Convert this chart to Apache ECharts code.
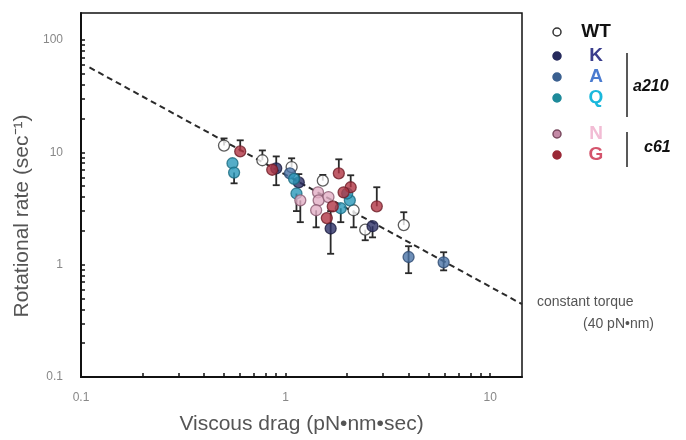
<!DOCTYPE html>
<html><head><meta charset="utf-8">
<script src="https://cdn.jsdelivr.net/npm/echarts@6/dist/echarts.min.js"></script>
<style>html,body{margin:0;padding:0;background:#fff}#c{width:686px;height:440px}</style>
</head><body><div id="c"></div>
<script>
// ---- data ----
const xTickLabels = [0.1, 1, 10];
const yTickLabels = [0.1, 1, 10, 100];

const wtX  = [0.50, 0.77, 1.07, 1.52, 2.15, 2.45, 3.78];
const wtY  = [11.5, 8.5, 7.4, 5.6, 3.05, 2.05, 2.25];
const wtLo = [null, null, null, null, 2.15, 1.65, null];
const wtHi = [13.3, 10.4, 8.85, 6.3, null, null, 2.93];

const kX  = [0.90, 1.16, 1.66, 2.66];
const kY  = [7.2, 5.4, 2.1, 2.2];
const kLo = [5.1, null, 1.25, 1.75];
const kHi = [9.2, 6.4, 3.0, null];

const aX  = [1.05, 3.99, 5.92];
const aY  = [6.5, 1.17, 1.05];
const aLo = [null, 0.84, 0.89];
const aHi = [null, 1.46, 1.29];

const qX  = [0.55, 0.56, 1.10, 1.13, 1.86, 2.06, 2.0];
const qY  = [8.0, 6.6, 5.8, 4.3, 3.18, 3.74, 4.3];
const qLo = [null, 5.3, null, 3.0, 2.39, null, null];
const qHi = [null, null, null, null, null, null, null];

const nX  = [1.18, 1.44, 1.45, 1.41, 1.62];
const nY  = [3.74, 4.41, 3.74, 3.05, 4.0];
const nLo = [2.39, null, null, 2.15, null];
const nHi = [null, null, null, null, null];

const gX  = [0.60, 0.86, 1.82, 2.08, 1.92, 1.70, 1.59, 2.79];
const gY  = [10.2, 7.0, 6.5, 4.89, 4.41, 3.3, 2.6, 3.31];
const gLo = [null, null, null, null, null, null, null, null];
const gHi = [12.8, null, 8.67, 6.25, null, null, null, 4.89];

// constant torque (40 pN·nm) line end points
const lineX = [0.11, 14.3];
const lineY = [57, 0.445];

// ---- helpers ----
function minorTicks(decades){
  const out=[];
  decades.forEach(d=>{for(let k=1;k<=9;k++){out.push(+(d*k).toPrecision(3));}});
  return out;
}
function pts(xs,ys){return xs.map((x,i)=>[x,ys[i]]);}
function errs(xs,ys,lo,hi){return xs.map((x,i)=>[x,ys[i],lo[i]==null?ys[i]:lo[i],hi[i]==null?ys[i]:hi[i]]);}

const groups = [
  {name:'WT', x:wtX,y:wtY,lo:wtLo,hi:wtHi, fill:'#ffffff', border:'#333333'},
  {name:'K',  x:kX,y:kY,lo:kLo,hi:kHi, fill:'#2c2f66', border:'#1c1d40'},
  {name:'A',  x:aX,y:aY,lo:aLo,hi:aHi, fill:'#4a73a6', border:'#2e4a70'},
  {name:'Q',  x:qX,y:qY,lo:qLo,hi:qHi, fill:'#2a98ba', border:'#1a6a80'},
  {name:'N',  x:nX,y:nY,lo:nLo,hi:nHi, fill:'#e2afc6', border:'#8a5a70'},
  {name:'G',  x:gX,y:gY,lo:gLo,hi:gHi, fill:'#b03544', border:'#6e1e28'}
];

const series = [];
series.push({
  type:'line', data: pts(lineX,lineY), symbol:'none', silent:true,
  lineStyle:{color:'#2a2a2a', width:2, type:[6,4]}, z:1
});
groups.forEach(g=>{
  series.push({
    type:'custom', name:g.name+'-err', data: errs(g.x,g.y,g.lo,g.hi), z:2,
    renderItem:function(params, api){
      const x=api.value(0), y=api.value(1), lo=api.value(2), hi=api.value(3);
      const pl=api.coord([x,lo]), ph=api.coord([x,hi]);
      const st={stroke:'#2a2a2a', lineWidth:1.8};
      const ch=[{type:'line', shape:{x1:pl[0],y1:pl[1],x2:ph[0],y2:ph[1]}, style:st}];
      if(lo<y) ch.push({type:'line', shape:{x1:pl[0]-3.5,y1:pl[1],x2:pl[0]+3.5,y2:pl[1]}, style:st});
      if(hi>y) ch.push({type:'line', shape:{x1:ph[0]-3.5,y1:ph[1],x2:ph[0]+3.5,y2:ph[1]}, style:st});
      return {type:'group', children:ch};
    }
  });
});
groups.forEach(g=>{
  series.push({
    type:'scatter', name:g.name, data: pts(g.x,g.y), symbol:'circle', symbolSize:11, z:3,
    itemStyle:{color:g.fill, borderColor:g.border, borderWidth:1.3}
  });
});

const xTicks = minorTicks([0.1,1]).concat([10]);
const yTicks = minorTicks([0.1,1,10]).concat([100]);

const legendRows = [
  {t:'WT', y:32,  fill:'#ffffff', border:'#333', tc:'#111111'},
  {t:'K',  y:56,  fill:'#262a5c', border:'#262a5c', tc:'#3a3d8c'},
  {t:'A',  y:77,  fill:'#3b6090', border:'#3b6090', tc:'#4a7bd0'},
  {t:'Q',  y:98,  fill:'#1e8a9a', border:'#1e8a9a', tc:'#1ab8dc'},
  {t:'N',  y:134, fill:'#c48aa6', border:'#7a4a60', tc:'#f2bcd4'},
  {t:'G',  y:155, fill:'#9a2836', border:'#9a2836', tc:'#d4546c'}
];
const graphics = [];
legendRows.forEach(r=>{
  graphics.push({type:'circle', shape:{cx:557, cy:r.y, r:4}, style:{fill:r.fill, stroke:r.border, lineWidth:1.5}});
  graphics.push({type:'text', x:596, y:r.y, style:{text:r.t, fill:r.tc, font:'bold 19px "Liberation Sans", Arial, sans-serif', align:'center', verticalAlign:'middle'}});
});
graphics.push({type:'line', shape:{x1:627,y1:53,x2:627,y2:117}, style:{stroke:'#222', lineWidth:1.5}});
graphics.push({type:'line', shape:{x1:627,y1:132,x2:627,y2:167}, style:{stroke:'#222', lineWidth:1.5}});
graphics.push({type:'text', x:633, y:87, style:{text:'a210', fill:'#111', font:'italic bold 16px "Liberation Sans", Arial, sans-serif', verticalAlign:'middle'}});
graphics.push({type:'text', x:644, y:148, style:{text:'c61', fill:'#111', font:'italic bold 16px "Liberation Sans", Arial, sans-serif', verticalAlign:'middle'}});
graphics.push({type:'text', x:537, y:302, style:{text:'constant torque', fill:'#555', font:'14px "Liberation Sans", Arial, sans-serif', verticalAlign:'middle'}});
graphics.push({type:'text', x:583, y:324, style:{text:'(40 pN•nm)', fill:'#555', font:'14px "Liberation Sans", Arial, sans-serif', verticalAlign:'middle'}});
graphics.push({type:'text', x:22, y:216, rotation:Math.PI/2, style:{text:'Rotational rate (sec⁻¹)', fill:'#555', font:'21px "Liberation Sans", Arial, sans-serif', align:'center', verticalAlign:'middle'}});

const fmt = v => String(+v.toPrecision(3));

const option = {
  animation:false,
  grid:{left:81, right:164, top:13, bottom:63, show:true, borderColor:'#111', borderWidth:1.5, backgroundColor:'transparent'},
  xAxis:{
    type:'log', logBase:10, min:0.1, max:14.3,
    name:'Viscous drag (pN•nm•sec)', nameLocation:'middle', nameGap:37,
    nameTextStyle:{color:'#555', fontSize:21, fontFamily:'Liberation Sans'},
    axisLine:{lineStyle:{color:'#111', width:2}},
    axisTick:{inside:true, length:4, lineStyle:{color:'#111', width:1.5}, customValues:xTicks},
    axisLabel:{customValues:xTickLabels, formatter:fmt, color:'#888', fontSize:12, margin:15, fontFamily:'Liberation Sans'},
    splitLine:{show:false}, minorTick:{show:false}
  },
  yAxis:{
    type:'log', logBase:10, min:0.1, max:174,
    axisLine:{lineStyle:{color:'#111', width:2}},
    axisTick:{inside:true, length:4, lineStyle:{color:'#111', width:1.5}, customValues:yTicks},
    axisLabel:{customValues:yTickLabels, formatter:fmt, color:'#888', fontSize:12, margin:18, fontFamily:'Liberation Sans'},
    splitLine:{show:false}, minorTick:{show:false}
  },
  graphic: graphics,
  series: series
};
echarts.init(document.getElementById('c'), null, {renderer:'canvas'}).setOption(option);
</script>
</body></html>
